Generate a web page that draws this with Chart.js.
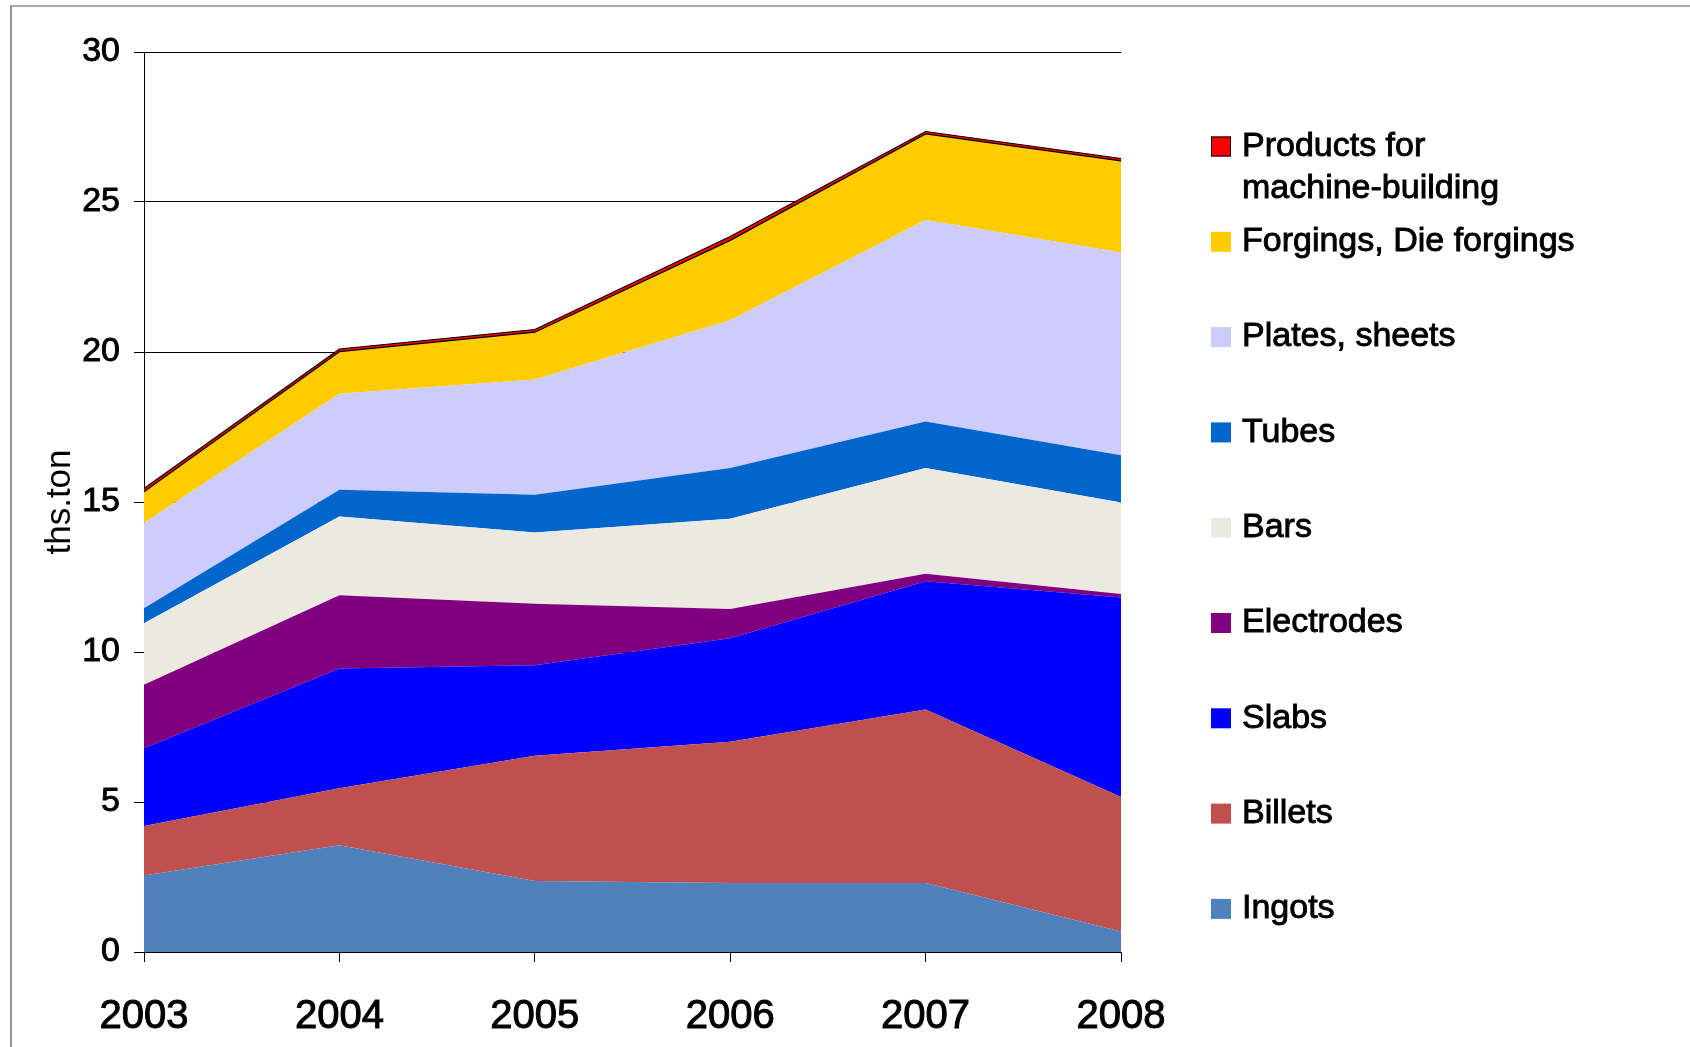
<!DOCTYPE html>
<html>
<head>
<meta charset="utf-8">
<script src="https://cdn.jsdelivr.net/npm/chart.js@4.4.1/dist/chart.umd.min.js"></script>
<style>
  html, body { margin: 0; padding: 0; background: #fff; }
  #wrap { width: 1690px; height: 1047px; }
</style>
</head>
<body>
<div id="wrap"><canvas id="myChart" width="1690" height="1047"></canvas></div>
<script>
const years = ['2003', '2004', '2005', '2006', '2007', '2008'];

// values in ths.ton, bottom to top of the stack
const ingots = [2.55, 3.56, 2.37, 2.30, 2.30, 0.68];
const billets = [1.65, 1.90, 4.17, 4.71, 5.78, 4.49];
const slabs = [2.59, 3.99, 3.02, 3.45, 4.28, 6.65];
const electrodes = [2.12, 2.44, 2.05, 0.97, 0.25, 0.11];
const bars = [2.05, 2.63, 2.37, 3.01, 3.52, 3.05];
const tubes = [0.50, 0.89, 1.26, 1.69, 1.55, 1.58];
const plates = [2.84, 3.20, 3.84, 4.93, 6.72, 6.76];
const forgings = [1.04, 1.40, 1.58, 2.66, 2.87, 3.05];
const machineProducts = [0.11, 0.09, 0.09, 0.13, 0.08, 0.08];

const yTicks = [0, 5, 10, 15, 20, 25, 30];

const FONT = "'Liberation Sans', Arial, sans-serif";

const series = [
  {label: 'Ingots', data: ingots, color: '#4f81bd'},
  {label: 'Billets', data: billets, color: '#c0504d'},
  {label: 'Slabs', data: slabs, color: '#0000ff'},
  {label: 'Electrodes', data: electrodes, color: '#800080'},
  {label: 'Bars', data: bars, color: '#eceae0'},
  {label: 'Tubes', data: tubes, color: '#0066cc'},
  {label: 'Plates, sheets', data: plates, color: '#ccccff'},
  {label: 'Forgings, Die forgings', data: forgings, color: '#ffcc00', line: '#000'},
  {label: 'Products for machine-building', data: machineProducts, color: '#ff0000', line: '#000', box: '#000'},
];

// frame around the whole picture
const framePlugin = {
  id: 'frame',
  beforeDraw(chart) {
    const ctx = chart.ctx;
    ctx.save();
    ctx.strokeStyle = '#555';
    ctx.lineWidth = 1.2;
    ctx.beginPath();
    ctx.moveTo(11, chart.height);
    ctx.lineTo(11, 6);
    ctx.lineTo(chart.width, 6);
    ctx.stroke();
    ctx.restore();
  }
};

// legend on the right, top entry = top of the stack
const sideLegend = {
  id: 'sideLegend',
  afterDraw(chart) {
    const ctx = chart.ctx;
    const x = 1211, textX = 1242, box = 20, step = 95.3, lineH = 42;
    const maxW = chart.width - textX - 10;
    ctx.save();
    ctx.font = '34px ' + FONT;
    ctx.textBaseline = 'middle';
    ctx.lineWidth = 0.9;
    ctx.strokeStyle = '#000';
    let y = 146.5;
    for (let i = series.length - 1; i >= 0; i--) {
      const s = series[i];
      ctx.fillStyle = s.color;
      ctx.fillRect(x, y - box / 2, box, box);
      if (s.box) {
        ctx.strokeStyle = s.box;
        ctx.lineWidth = 1;
        ctx.strokeRect(x + 0.5, y - box / 2 + 0.5, box - 1, box - 1);
        ctx.lineWidth = 0.9;
        ctx.strokeStyle = '#000';
      }
      // wrap long labels
      const words = s.label.split(' ');
      const lines = [];
      let cur = '';
      words.forEach(w => {
        const t = cur ? cur + ' ' + w : w;
        if (ctx.measureText(t).width > maxW && cur) { lines.push(cur); cur = w; } else { cur = t; }
      });
      lines.push(cur);
      ctx.fillStyle = '#000';
      lines.forEach((l, k) => {
        ctx.fillText(l, textX, y + k * lineH);
        ctx.strokeText(l, textX, y + k * lineH);
      });
      y += step;
    }
    ctx.restore();
  }
};

const ctx = document.getElementById('myChart').getContext('2d');
new Chart(ctx, {
  type: 'line',
  data: {
    labels: years,
    datasets: series.map((s, i) => ({
      label: s.label,
      data: s.data,
      backgroundColor: s.color,
      borderColor: s.line || s.color,
      borderWidth: s.line ? 1.2 : 0,
      fill: i === 0 ? 'origin' : '-1',
      pointRadius: 0,
      tension: 0,
    })),
  },
  options: {
    responsive: false,
    animation: false,
    events: [],
    layout: {padding: {left: 0, right: 569, top: 52, bottom: 0}},
    plugins: {
      legend: {display: false},
      tooltip: {enabled: false},
    },
    scales: {
      x: {
        offset: false,
        afterFit: (scale) => { scale.height = 95; },
        grid: {drawOnChartArea: false, drawTicks: true, tickLength: 10, color: '#000'},
        border: {display: true, color: '#000', width: 1},
        ticks: {color: '#000', font: {family: FONT, size: 40}, padding: 31, maxRotation: 0,
                textStrokeColor: '#000', textStrokeWidth: 1},
      },
      y: {
        stacked: true,
        min: 0,
        max: 30,
        afterFit: (scale) => { scale.width = 144; },
        afterBuildTicks: (scale) => { scale.ticks = yTicks.map(v => ({value: v})); },
        grid: {color: '#000', lineWidth: 1, tickLength: 10},
        border: {display: true, color: '#000', width: 1},
        ticks: {color: '#000', font: {family: FONT, size: 34}, padding: 14,
                textStrokeColor: '#000', textStrokeWidth: 0.9},
        title: {display: true, text: 'ths.ton', color: '#000', font: {family: FONT, size: 35}, padding: {top: 39, bottom: 0}},
      },
    },
  },
  plugins: [framePlugin, sideLegend],
});
</script>
</body>
</html>
